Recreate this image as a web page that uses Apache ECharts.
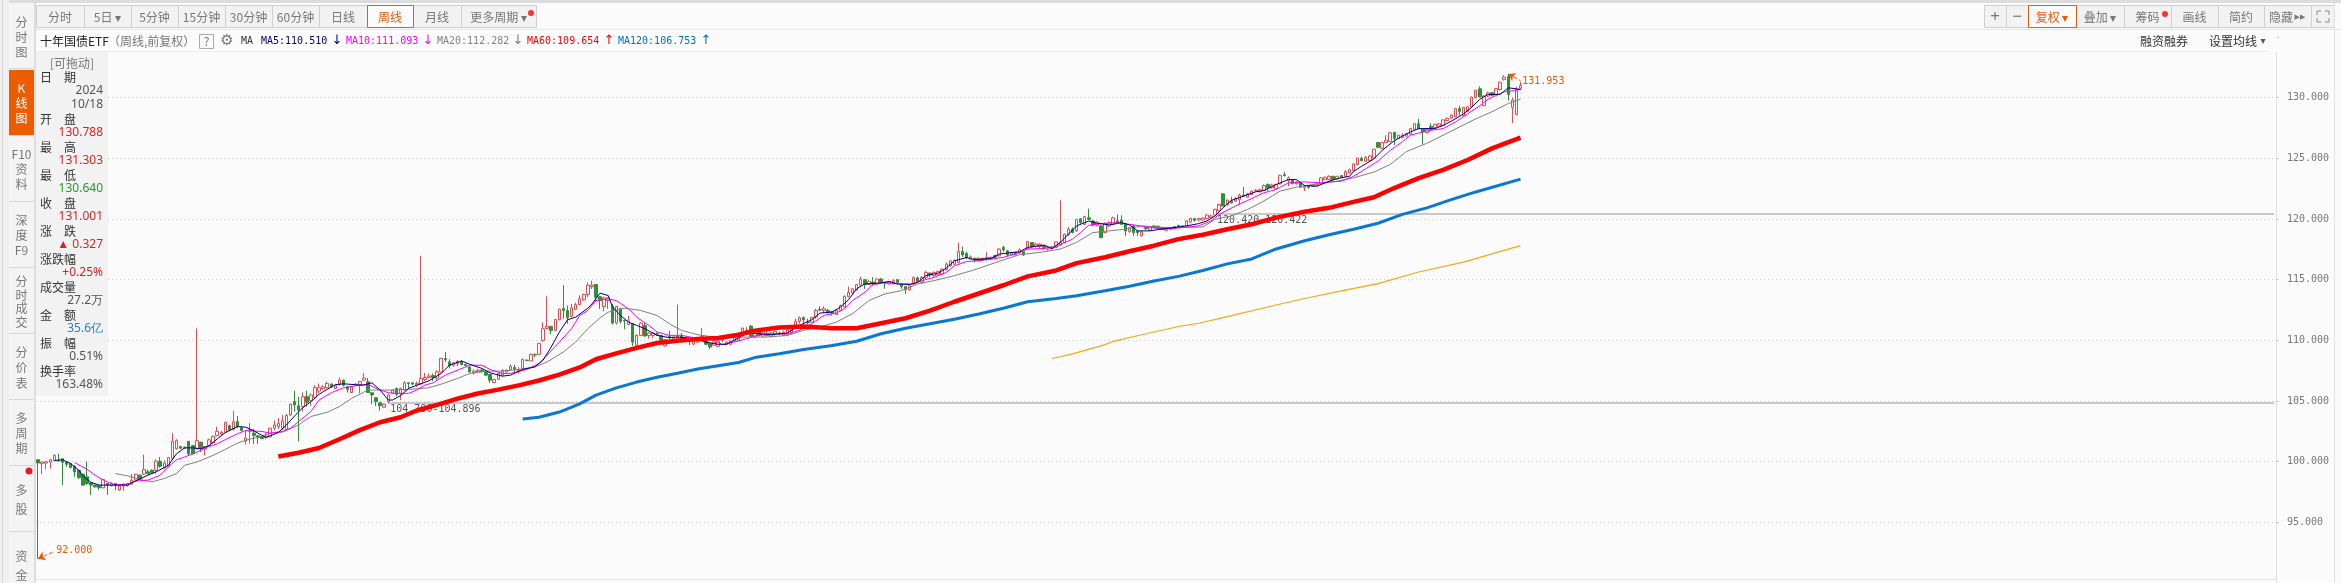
<!DOCTYPE html>
<html>
<head>
<meta charset="utf-8">
<title>十年国债ETF</title>
<script src="https://cdn.jsdelivr.net/npm/echarts@6/dist/echarts.min.js"></script>
<style>
  html, body { margin: 0; padding: 0; background: #fbfbfb; }
  #chart { width: 2341px; height: 583px; }
</style>
</head>
<body>
<div id="chart"></div>
<script>
// weekly candles, [open, close, low, high]
const candles = [
  [100.16,99.89,92,100.2],[99.84,99.97,98.97,100],[99.89,100,99.38,100.02],[99.97,100.16,99.43,100.2],[100.08,100.52,100.03,100.6],
  [100.1,100.06,100,100.65],[100.24,99.95,98.07,100.3],[99.97,99.78,99.57,100],[99.84,99.51,99.45,99.9],[99.62,99.16,98.75,99.7],
  [99.29,98.67,98.6,99.35],[98.97,98.07,98,99],[98.75,98.2,98.1,100],[98.26,98.07,97.26,98.3],[98.07,97.93,97.85,98.1],
  [98.02,97.85,97.66,98.05],[97.85,98.53,97.8,98.6],[98.2,98.07,97.26,98.25],[98.02,98.2,97.95,98.3],[98.2,98.02,97.66,98.25],
  [97.66,98.02,97.6,98.05],[97.99,98.15,97.6,98.2],[98.02,98.2,97.95,98.25],[98.15,98.48,98.1,98.97],[98.48,98.97,98.4,99],
  [98.89,98.6,98.5,98.95],[98.97,99.35,98.9,100.57],[99.16,99.02,98.95,99.35],[99.3,99.08,99,99.35],[99.29,100.05,99,100.2],
  [100.03,99.62,99.5,100.38],[99.51,99.89,99.4,100.1],[99.62,100.33,99.55,100.4],[100.25,101.68,100.2,102.36],[101.06,101.74,101,101.85],
  [101.25,101.11,101.05,101.3],[101.09,101.2,101.05,101.25],[101.68,100.65,100.55,101.7],[101.33,100.65,100.6,101.35],[101.06,101.74,101,110.98],
  [101.6,101.14,100.8,101.65],[101.06,101.25,100.5,101.3],[101.33,101.8,101.25,101.9],[101.55,102.09,101.5,102.15],[102.15,102.5,102.1,102.88],
  [102.28,102.42,102.15,102.55],[102.42,103.23,102.38,103.3],
  [102.95,102.62,102.5,103.05],[102.68,103.3,102.57,104.2],[103.3,102.9,102.76,103.77],[102.8,102.57,102.5,102.9],[101.7,101.95,101.4,102.6],
  [102.5,102.6,101.5,103.17],[102.35,102.15,101.45,102.7],[102.13,102,101.45,102.2],[102.05,101.9,101.85,102.1],[102,102.1,101.85,102.35],
  [102.05,102.76,102,102.8],[102.76,103.03,102.6,103.4],[102.9,103.17,102.68,103.6],[102.76,103.36,102.6,103.85],[102.62,103.8,102.57,103.93],
  [103.85,104.73,103.77,104.8],[104.95,104.67,104.13,105.85],[104.6,104.26,101.67,105.36],[104.53,105.36,104.13,105.7],[105.36,104.9,104.53,105.85],
  [105.03,105.5,104.6,105.63],[105.3,106.1,105.2,106.3],[105.82,106.1,105.63,106.45],[106,106.17,105.9,106.3],[106.1,106.45,106.04,106.58],
  [106.4,106.17,106.1,106.45],[106.04,106.28,106,106.35],[106.37,106.72,106.26,106.94],[106.72,106.3,106.2,106.75],[106.17,105.96,105.7,106.23],
  [105.7,106.17,105.7,106.2],[106.3,106.4,106.25,106.45],[106.3,106.6,105.63,106.64],[106.72,106.9,106.67,107.32],[106.58,105.7,105.7,106.9],
  [105.68,105.5,104.73,105.7],[105.27,104.95,104.6,105.3],[104.86,104.62,104.2,104.9],[104.48,104.75,104.48,104.8],[104.95,105.5,104.8,105.55],
  [105.63,105.9,105.6,105.95],[106.04,105.55,105.4,106.1],[105.63,106.04,105.08,106.1],[105.9,106.5,105.85,106.64],[106.5,106.45,106.05,106.5],
  [106.5,106.4,106.3,106.55],
  [106.33,106.45,106.17,106.6],[106.4,106.86,106.35,116.97],[106.77,106.94,106.64,107.32],[106.94,107.05,106.86,107.27],[107.1,106.94,106.64,107.27],
  [106.9,107.4,106.72,107.54],[107.38,108.52,107.35,108.55],[108.5,108.42,108.22,109.04],[108.22,107.9,107.68,108.44],[107.95,108.14,107.8,108.22],
  [108.08,108.28,107.87,108.36],[108.22,108,107.95,108.36],[108.03,107.93,107.9,108.05],[107.8,107.4,107.35,107.85],[107.32,107.46,107.18,107.6],
  [107.4,107.54,107.3,107.65],[107.55,107.42,107.35,107.6],[107.4,107.13,107.05,107.45],[107.18,106.72,106.5,107.25],[106.53,106.78,106.5,106.8],
  [106.78,107.27,106.75,107.3],[107.13,107.54,107,107.62],[107.4,107.54,107.35,107.6],[107.6,107.87,107.5,108],[107.76,107.62,107.4,108],
  [107.5,107.6,107.27,107.8],[107.68,108.44,107.65,108.47],[108.36,108.33,108.3,108.45],[108.3,108.85,108.28,108.9],[108.85,108.8,108.6,108.9],
  [108.85,109.73,108.8,109.8],[110,110.96,109.86,111.48],[110.98,111.15,110.93,113.63],[111.15,110.82,110.5,111.2],[110.82,111.72,110.8,111.75],
  [111.7,112.57,111.65,112.62],[112.62,112.46,111.78,114.54],[112.46,111.86,111.37,112.87],[111.97,112.68,111.9,113],[112.57,112.95,112.5,113.1],
  [112.95,113.42,112.9,113.7],[113.33,113.77,113.25,113.85],[113.77,114.54,113.55,114.78],[114.43,114.56,114.23,114.92],[114.6,113.55,113.2,114.62],
  [113.6,113.28,112.6,113.65],
  [112.79,113.5,112.4,113.6],[113.28,113.5,112.6,113.55],[112.81,111.42,111.3,113],[111.42,112.8,111.3,112.85],[112.6,111.56,111.4,112.7],
  [111.65,111.6,110.93,111.68],[111.3,111.6,111.25,112],[111.37,109.86,109.54,111.4],[109.6,110.4,109.55,110.5],[110.4,111.42,110.35,111.5],
  [111.23,110.36,110.3,111.5],[110.4,110.6,110.14,110.68],[110.4,110.6,110.2,110.7],[110.55,110.5,110.35,110.65],[110.4,110,109.95,110.45],
  [109.54,110.05,109.5,110.1],[110.33,110.22,110.05,110.77],[110.05,110.27,110,110.3],[110.14,110.33,110.05,112.95],[110.4,110.14,110.1,110.6],
  [110.2,110.25,110.15,110.3],[110.05,109.95,109.6,110.1],[109.68,109.95,109.6,110],[109.86,110.05,109.8,110.1],[110.05,110.33,110,111],
  [109.95,109.68,109.6,110],[109.73,109.45,109.3,109.78],[109.6,109.86,109.55,109.9],[109.5,109.95,109.5,110],[110,110.1,109.86,110.2],
  [109.68,109.86,109.6,109.9],[109.68,109.95,109.6,110],[109.95,110.27,109.9,110.3],[110,110.4,109.95,110.45],[110.36,111,110.3,111.05],
  [110.55,110.82,110.5,111.1],[111.17,110.33,110.3,111.25],[110.27,110.55,110.2,110.6],[110.68,110.4,110.3,110.8],[110.35,110.63,110.3,110.7],
  [110.4,110.55,110.3,110.8],[110.33,110.6,110.25,110.7],[110.55,110.74,110.4,110.8],[110.62,110.55,110.45,110.7],[110.4,110.68,110.35,110.8],
  [110.55,110.87,110.4,110.95],
  [110.61,110.97,110.5,111.05],[111.02,111.57,110.97,111.78],[111.57,111.87,111.38,111.98],[111.87,111.7,111.38,111.98],[111.5,111.45,111.3,111.78],
  [111.5,111.87,111.45,111.95],[111.92,112.47,111.78,112.6],[112.55,112.5,112.4,112.8],[112.47,112.6,112.25,112.8],[112.47,112.3,112.2,112.6],
  [112.35,112.25,112.05,112.4],[112.14,112.47,112.1,112.55],[112.47,112.87,112.4,112.95],[112.74,113.64,112.7,113.7],[113.6,113.96,113.55,114.43],
  [113.9,114.24,113.85,114.3],[114.16,114.6,114.1,114.65],[114.56,115.05,114.5,115.25],[115,114.6,114.24,115.05],[114.6,114.86,114.55,114.95],
  [114.8,114.7,114.5,115.2],[114.65,115.05,114.6,115.1],[115.05,114.78,114.7,115.14],[114.78,114.7,114.24,114.8],[114.65,114.8,114.6,114.85],
  [114.65,114.92,114.6,115.05],[115,114.78,114.7,115.05],[114.6,114.43,114.24,114.65],[114.43,114.16,113.83,114.45],[114.16,114.5,114.1,114.55],
  [114.65,115.19,114.6,115.25],[115.14,114.86,114.8,115.27],[114.78,115.19,114.7,115.3],[115.19,115.6,115.05,115.74],[115.54,115.4,115.2,115.6],
  [115.33,115.6,115.25,115.68],[115.4,115.68,115.35,115.7],[115.46,115.87,115.4,115.9],[115.82,116.28,115.75,116.42],[116.14,116.55,116.1,116.6],
  [116.28,116.6,116.2,116.65],[116.42,117.32,116.33,118.05],[117.32,117.04,116.88,117.72],[117.15,116.83,116.7,117.3],[116.7,116.88,116.65,117],
  [116.77,116.63,116.42,116.8],
  [116.57,116.76,116.5,116.85],[116.75,116.62,116.55,116.8],[116.7,116.84,116.57,117.25],[116.7,116.84,116.6,116.9],[116.98,116.84,116.7,117.05],
  [116.98,117.52,116.9,117.6],[117.66,117.47,117.3,117.8],[117.38,117.03,116.95,117.45],[117.08,117.25,117,117.3],[117.25,117.1,117,117.3],
  [117.2,117.47,117.15,117.58],[117.3,117.03,116.95,117.35],[117.52,118.15,117.5,118.2],[118.07,117.7,117.6,118.1],[117.74,117.93,117.65,118.05],
  [117.74,117.93,117.6,118],[117.8,117.66,117.47,117.85],[117.52,117.66,117.38,117.7],[117.57,117.7,117.47,117.75],[117.66,118.12,117.6,118.15],
  [117.85,118.07,117.8,121.55],[118.07,118.75,118,118.8],[118.7,119.15,118.6,119.35],[119.15,118.88,118.83,119.3],[119.02,119.97,118.95,120],
  [120.02,119.7,119.6,120.05],[119.56,120.2,119.5,120.25],[120.1,119.97,119.9,120.85],[119.84,119.5,119.4,119.9],[119.48,119.75,119.4,119.8],
  [119.43,118.47,118.4,119.5],[118.88,119.65,118.85,119.7],[119.43,119.7,119.35,119.8],[119.56,120.1,119.5,120.2],[119.84,119.7,119.65,120.38],
  [119.9,119.56,119.5,120.3],[119.56,119.02,118.6,119.6],[118.94,119.3,118.9,119.35],[119.43,118.88,118.6,119.5],[119.02,118.88,118.6,119.05],
  [118.6,118.94,118.55,119],[119.3,119.2,119.1,119.35],[119.1,119.35,119.05,119.4],[119.43,119.3,119.25,119.5],[119.4,119.2,119.15,119.45],
  [119.3,119.15,119.1,119.35],
  [119.07,119.29,119,119.35],[119.15,119.29,119.1,119.35],[119.37,119.23,119.2,119.4],[119.48,119.37,119.3,119.5],[119.35,119.43,119.3,119.5],
  [119.43,119.84,119.38,119.9],[119.75,120.05,119.7,120.1],[120.03,119.9,119.78,120.1],[119.92,120.03,119.85,120.1],[119.92,120.08,119.88,120.15],
  [120.03,120.33,120,120.4],[120.11,120.25,120.05,120.35],[120.33,120.8,120.3,120.85],[120.71,121.2,120.65,121.25],[122.08,121.07,121,122.1],
  [121.2,121.56,121.1,121.6],[121.48,121.34,121.28,121.83],[121.48,121.7,121.4,121.8],[121.6,121.97,121.2,122.08],[121.97,121.88,121.8,122.65],
  [121.8,122.08,121.75,122.15],[122.02,122.3,121.97,122.35],[122.3,122.38,122.25,122.45],[122.24,122.4,122.2,122.5],[122.35,122.76,122.3,122.85],
  [122.85,122.57,122.3,122.92],[122.57,122.8,122.5,122.9],[122.5,122.85,122.45,122.9],[122.9,123.6,122.85,123.65],[123.65,123.58,123.5,123.88],
  [123.17,123.39,122.7,123.52],[123.2,122.92,122.85,123.25],[122.9,123.06,122.85,123.15],[122.98,122.62,122.6,123],[122.57,122.7,122.3,122.75],
  [122.75,122.62,122.5,122.78],[122.7,122.8,122.65,122.85],[122.8,122.9,122.75,122.95],[122.92,123.39,122.87,123.45],[123.25,123.44,123.2,123.5],
  [123.25,123.52,123.2,123.6],[123.52,123.25,123.2,123.55],[123.3,123.52,123.25,123.55],[123.58,123.44,123.4,123.6],[123.52,123.93,123.45,124],
  [123.8,124.07,123.75,124.15],[123.99,124.54,123.95,124.6],
  [124.49,125.03,124.45,125.05],[125,124.81,124.75,125.15],[124.76,125.08,124.7,125.2],[124.81,125.2,124.75,125.25],[125.03,125.75,125,125.8],
  [126.3,125.91,125.85,126.35],[125.83,126.3,125.8,126.35],[126.3,126.5,126.25,126.9],[126.37,127.1,126.33,127.15],[127.12,126.64,126.1,127.2],
  [126.64,126.9,126.6,126.95],[126.72,126.9,126.65,127.05],[126.83,127.04,126.8,127.1],[126.99,127.45,126.95,127.5],[127.39,127.85,127.35,127.9],
  [127.85,127.45,127.4,128.25],[127.4,127.18,126.15,127.42],[127.12,127.39,127.05,127.45],[127.63,127.39,127.3,127.9],[127.53,127.8,127.45,127.85],
  [127.66,127.85,127.6,127.9],[127.71,128.17,127.65,128.2],[128.12,128.3,128.05,128.35],[128.3,128.57,128.25,128.6],[128.44,129.1,128.4,129.15],
  [129.1,128.87,128.53,129.33],[128.53,129.2,128.5,129.25],[128.87,129.25,128.8,129.3],[129.25,130.05,129.2,130.1],[130,130.6,129.95,130.65],
  [130.73,130.08,130,130.92],[129.33,130.13,129.3,130.2],[130.13,130.4,130.05,130.5],[130.4,130.2,130.1,130.45],[130.27,130.75,130.2,130.8],
  [130.67,131.28,130.6,131.32],[131.5,131.7,131.4,131.85],[131.75,130.27,129.75,131.953],[129.2,129.8,127.9,130],[128.6,130.67,128.55,130.9],
  [130.788,131.001,130.64,131.303]
];

// moving averages, [week index, value] at the bends
const ma5 = [[4,100.1],[6,100.16],[8,99.84],[10,99.3],[11,98.83],[13,98.29],[15,98.07],[19,98.07],[22,98.07],[24,98.42],[27,98.89],[29,99.16],[32,99.7],[34,100.65],[36,101.14],[38,101.14],[40,101.06],[42,101.33],[44,101.87],[46,102.4],[49,102.9],[51,102.84],[53,102.54],[55,102.16],[56,102],[59,102.4],[61,103.03],[63,103.77],[65,104.45],[67,104.95],[69,105.55],[71,105.96],[73,106.34],[75,106.42],[78,106.34],[80,106.31],[82,106.5],[84,105.9],[86,105.08],[87,105.08],[89,105.44],[91,106.04],[93,106.3],[96,106.67],[99,107.27],[101,107.95],[104,108.3],[106,108.03],[109,107.68],[111,107.32],[114,107.05],[116,107.13],[119,107.6],[122,107.81],[124,108.36],[126,109.45],[128,110.68],[130,111.69],[132,111.91],[135,112.65],[136,113],[138,113.89],[140,113.69],[141,112.79],[143,112.05],[145,111.5],[147,111.23],[149,110.96],[152,110.41],[155,110.22],[157,110.27],[161,110.14],[164,109.86],[167,109.67],[169,109.67],[172,110.19],[174,110.68],[177,110.55],[180,110.46],[184,110.6],[187,111.24],[190,111.7],[192,112.25],[195,112.33],[197,112.74],[199,113.34],[201,114.24],[203,114.65],[207,114.73],[209,114.86],[211,114.65],[214,114.6],[216,114.78],[218,115.33],[221,115.54],[223,115.95],[225,116.55],[228,116.83],[230,116.63],[234,116.76],[236,117.11],[238,117.19],[241,117.3],[243,117.66],[247,117.85],[249,117.57],[251,118.07],[253,118.75],[255,119.43],[258,119.84],[260,119.65],[263,119.51],[266,119.7],[268,119.51],[270,119.02],[273,119.02],[276,119.18],[280,119.34],[282,119.43],[285,119.62],[287,119.84],[289,120.25],[291,120.93],[293,121.53],[296,121.89],[299,122.24],[301,122.35],[304,122.84],[307,123.25],[309,123.25],[311,122.76],[314,122.7],[317,123.11],[319,123.33],[322,123.52],[323,123.9],[325,124.35],[328,124.95],[330,125.65],[333,126.45],[335,126.83],[337,127.18],[339,127.45],[343,127.45],[345,127.72],[347,128.06],[350,128.66],[352,129.2],[354,129.87],[356,130.27],[359,130.27],[361,130.81],[363,130.73],[364,130.67]];
const ma10 = [[9,99.92],[12,99.38],[14,98.89],[16,98.48],[19,98.07],[22,98.15],[24,98.4],[27,98.48],[30,98.89],[32,99.57],[34,100.16],[36,100.38],[39,100.79],[42,101.25],[44,101.47],[46,101.82],[49,102.3],[51,102.57],[55,102.49],[57,102.35],[60,102.49],[62,102.76],[64,103.31],[67,104.13],[69,105.08],[72,105.68],[75,106.09],[78,106.26],[81,106.37],[83,106.04],[86,105.68],[88,105.63],[91,105.63],[93,105.9],[95,106.31],[97,106.5],[100,107.13],[103,107.54],[106,107.95],[109,107.95],[111,107.6],[114,107.27],[116,107.27],[120,107.6],[123,108.09],[125,108.77],[128,109.86],[131,110.96],[133,112.05],[135,112.46],[137,113.28],[140,113.42],[142,113.28],[145,112.6],[147,111.91],[150,111.23],[152,110.68],[155,110.41],[158,110.41],[161,110.22],[165,110.14],[168,109.67],[171,109.86],[174,110.14],[177,110.46],[181,110.55],[184,110.52],[187,110.83],[190,111.38],[193,112.06],[196,112.25],[198,112.6],[200,113.28],[203,113.96],[205,114.6],[208,114.78],[211,114.65],[215,114.65],[217,114.92],[220,115.19],[223,115.6],[225,116.14],[228,116.5],[230,116.53],[234,116.7],[237,116.84],[240,117.11],[243,117.52],[247,117.57],[250,117.74],[254,118.34],[256,118.88],[258,119.48],[261,119.62],[265,119.7],[268,119.56],[272,119.37],[276,119.15],[281,119.29],[285,119.43],[288,119.84],[290,120.38],[294,121.07],[297,121.53],[301,122.16],[304,122.43],[307,122.98],[311,123.06],[315,122.98],[317,123.06],[320,123.11],[323,123.52],[326,124.14],[329,124.76],[332,125.65],[335,126.37],[337,126.91],[341,127.26],[345,127.45],[348,127.98],[351,128.66],[354,129.33],[356,129.87],[360,130.48],[363,130.59],[364,130.73]];
const ma20 = [[19,99.02],[22,98.83],[25,98.53],[28,98.34],[31,98.61],[34,99.02],[36,99.7],[39,99.97],[43,100.52],[46,101.02],[49,101.53],[52,101.86],[55,102.1],[57,102.35],[60,102.43],[64,103.03],[67,103.72],[71,104.07],[74,104.54],[77,105.22],[81,105.9],[84,105.9],[87,105.9],[93,106],[96,106.09],[99,106.39],[103,106.86],[106,107.27],[110,107.46],[114,107.46],[118,107.6],[122,107.81],[125,108.22],[129,109.04],[132,109.86],[135,110.96],[138,111.85],[140,112.32],[144,112.65],[148,112.46],[152,112.05],[155,111.37],[158,110.82],[162,110.46],[166,110.27],[170,110.22],[174,110.27],[179,110.27],[184,110.4],[188,110.83],[192,111.1],[196,111.5],[200,112.2],[204,113.28],[208,113.83],[212,114.1],[216,114.65],[220,114.92],[225,115.33],[230,115.82],[236,116.51],[241,117.06],[246,117.25],[251,117.52],[255,118.07],[259,118.88],[263,119.02],[267,119.16],[271,119.43],[277,119.29],[286,119.34],[289,119.97],[293,120.25],[297,120.79],[301,121.48],[305,122.3],[309,122.62],[313,122.84],[318,123.06],[323,123.39],[328,123.87],[332,124.49],[336,125.56],[341,126.24],[345,126.91],[349,127.58],[353,128.25],[357,128.84],[361,129.52],[364,129.87]];
const ma60 = [[59,100.43],[64,100.73],[69,101.13],[74,101.85],[79,102.6],[84,103.25],[89,103.66],[93,104.22],[98,104.68],[103,105.2],[108,105.62],[113,105.94],[118,106.29],[123,106.69],[128,107.18],[133,107.77],[137,108.44],[142,108.92],[147,109.38],[152,109.78],[157,109.97],[162,110.11],[167,110.19],[172,110.46],[176,110.8],[182,111.05],[188,111.14],[195,111],[201,111],[207,111.41],[213,111.82],[219,112.45],[225,113.18],[231,113.86],[237,114.54],[243,115.27],[250,115.76],[255,116.36],[262,116.85],[268,117.34],[274,117.8],[280,118.34],[286,118.7],[292,119.16],[298,119.57],[304,120.11],[311,120.6],[317,120.92],[323,121.41],[328,121.79],[333,122.55],[339,123.37],[345,124.05],[351,124.86],[357,125.82],[364,126.71]];
const ma120 = [[119,103.52],[123,103.66],[128,104.09],[133,104.76],[137,105.48],[142,106.08],[147,106.56],[152,106.96],[157,107.28],[162,107.63],[167,107.9],[172,108.17],[176,108.58],[182,108.9],[188,109.24],[195,109.57],[201,109.92],[207,110.54],[213,111],[219,111.36],[225,111.74],[231,112.17],[237,112.64],[243,113.18],[250,113.45],[255,113.67],[262,114.08],[268,114.46],[274,114.89],[280,115.27],[286,115.76],[292,116.3],[298,116.71],[304,117.53],[311,118.21],[317,118.7],[323,119.16],[329,119.65],[335,120.38],[341,120.92],[347,121.6],[353,122.23],[364,123.29]];
const ma250 = [[249,108.5],[254,108.89],[262,109.65],[264,109.92],[271,110.46],[280,111.14],[285,111.41],[292,111.96],[304,112.91],[311,113.45],[320,114.08],[329,114.67],[339,115.63],[350,116.44],[364,117.8]];

// hidden x axis: one slot a week, the empty ones keep the chart's free space on the right
const weekSlots = Array.from({ length: 550 }, (_, i) => String(i));

const lowPoint = [0, 92];
const highPoint = [361, 131.953];
const recentBand = ["120.420-120.422", 120.42, 289];
const earlierBand = ["104.790-104.896", 104.85, 86];

const periodTabs = [["分时",36,84],["5日 ▾",84,131],["5分钟",131,178],["15分钟",178,225],["30分钟",225,272],["60分钟",272,319],["日线",319,367],["周线",367,413],["月线",413,461],["更多周期 ▾",461,536]];
const toolTabs = [["+",1984,2006],["−",2006,2028],["复权 ▾",2028,2076],["叠加 ▾",2076,2124],["筹码",2124,2171],["画线",2171,2218],["简约",2218,2264],["隐藏",2264,2311],["",2311,2334]];
const sideTabs = [[["分","时","图"],4,68,[22,37,52]],[["K","线","图"],70,135,[88,103,118]],[["F10","资","料"],136,201,[154,169,184]],[["深","度","F9"],202,267,[220,235,250]],[["分","时","成","交"],268,333,[281,295,308,322]],[["分","价","表"],334,399,[352,367,383]],[["多","周","期"],400,465,[418,433,448]],[["多","股"],466,531,[490,509]],[["资","金"],532,590,[556,575]]];
const maLegend = [["MA5:110.510","#000080",261,"↓",337],["MA10:111.093","#ff00ff",346,"↓",428],["MA20:112.282","#808080",437,"↓",518],["MA60:109.654","#ff0000",527,"↑",609],["MA120:106.753","#0070c8",618,"↑",706]];
const infoRows = [["日　期","#333","l"],["2024","#555","r"],["10/18","#555","r"],["开　盘","#333","l"],["130.788","#e02020","r"],["最　高","#333","l"],["131.303","#e02020","r"],["最　低","#333","l"],["130.640","#20a020","r"],["收　盘","#333","l"],["131.001","#e02020","r"],["涨　跌","#333","l"],["▲ 0.327","#e02020","r"],["涨跌幅","#333","l"],["+0.25%","#e02020","r"],["成交量","#333","l"],["27.2万","#555","r"],["金　额","#333","l"],["35.6亿","#2080e0","r"],["振　幅","#333","l"],["0.51%","#555","r"],["换手率","#333","l"],["163.48%","#555","r"]];

const cjk = '12px "Noto Sans CJK SC", sans-serif';
const mono = '10px "DejaVu Sans Mono", monospace';
const orange = "#e8590c";
const g = [];

function text(str, x, y, fill, font, align) {
  g.push({ type: "text", z: 102, silent: true, style: { text: str, x, y, fill: fill || "#777", font: font || cjk, align: align || "left", verticalAlign: "middle" } });
}
function rect(x, y, w, h, fill, stroke) {
  g.push({ type: "rect", z: 101, silent: true, shape: { x, y, width: w, height: h }, style: { fill: fill || "transparent", stroke: stroke || null, lineWidth: 1 } });
}
function hline(x1, x2, y, color) { rect(x1, y, x2 - x1, 1, color); }
function dot(x, y, r, fill) {
  g.push({ type: "circle", z: 103, silent: true, shape: { cx: x, cy: y, r }, style: { fill } });
}
function corner(points) {
  g.push({ type: "polyline", z: 103, silent: true, shape: { points }, style: { fill: "none", stroke: "#888", lineWidth: 1 } });
}

// header bands cover the top of the grid
rect(0, 0, 2341, 30, "#fbfbfb");
rect(36, 30, 2241, 22, "#fbfbfb");
rect(0, 0, 2341, 3, "#dcdcdc");
hline(36, 2341, 29, "#e6e6e6");
hline(36, 2267, 51, "#eeeeee");

periodTabs.concat(toolTabs).forEach(([label, x1, x2]) => {
  const active = label === "周线" || label.startsWith("复权");
  rect(x1 + 0.5, 5.5, x2 - x1, 22, active ? "#fbfbfb" : "#f2f2f2", "#cfcfcf");
});
periodTabs.concat(toolTabs).forEach(([label, x1, x2]) => {
  const active = label === "周线" || label.startsWith("复权");
  if (active) {
    g.push({ type: "rect", z: 102, silent: true, shape: { x: x1 + 0.5, y: 5.5, width: x2 - x1, height: 22 }, style: { fill: "transparent", stroke: orange, lineWidth: 1 } });
  }
  const big = label === "+" || label === "−";
  const cx = label === "隐藏" ? x1 + 17 : (x1 + x2) / 2;
  text(label, cx, 17, active ? orange : "#777", big ? '17px "Noto Sans", sans-serif' : cjk, "center");
});
dot(531, 13, 3, "#ff3030");
dot(2165, 14, 3, "#ff3030");
text("▶▶", 2300, 17, "#777", '7px "DejaVu Sans"', "center");
corner([[2317, 15], [2317, 11], [2321, 11]]);
corner([[2325, 11], [2329, 11], [2329, 15]]);
corner([[2317, 18], [2317, 22], [2321, 22]]);
corner([[2325, 22], [2329, 22], [2329, 18]]);

// second row
text("十年国债ETF", 40, 41, "#222");
text("（周线,前复权）", 108, 41, "#777");
rect(199.5, 34.5, 14, 14, "#fbfbfb", "#aaaaaa");
text("?", 206.5, 41, "#777", cjk, "center");
text("⚙", 227, 41, "#777", '15px "DejaVu Sans"', "center");
text("MA", 241, 41, "#333", mono);
maLegend.forEach(([label, color, x, arrow, ax]) => {
  text(label, x, 41, color, mono);
  text(arrow, ax, 41, color, '13px "DejaVu Sans"', "center");
});
text("融资融券", 2140, 41, "#333");
text("设置均线", 2209, 41, "#333");
text("▾", 2263, 41, "#555", '10px "DejaVu Sans"', "center");

// left side tabs
rect(0, 0, 9, 583, "#f0f0f0");
rect(2, 0, 1, 583, "#d8d8d8");
rect(9, 3, 26, 580, "#f4f4f4");
rect(34, 3, 2, 580, "#dddddd");
sideTabs.forEach(([chars, top, bottom, ys]) => {
  const active = chars[0] === "K";
  rect(9, top, 25, bottom - top, active ? "#ee5c00" : "#f4f4f4");
  hline(9, 34, bottom, "#d8d8d8");
  chars.forEach((c, i) => text(c, 21.5, ys[i], active ? "#fff" : "#777", cjk, "center"));
});
dot(29, 471, 3.5, "#e02020");

// info panel
rect(36, 52, 72, 344, "#f2f2f2");
text("[可拖动]", 72, 63, "#777", cjk, "center");
infoRows.forEach(([label, color, side], i) => {
  const y = 77 + i * 14;
  if (side === "l") text(label, 40, y, color);
  else text(label, 103, y, color, '12px "Noto Sans", sans-serif', "right");
});

// outer frame lines
rect(2334, 3, 1, 580, "#e0e0e0");
hline(36, 2277, 579, "#e6e6e6");

function maLine(name, data, color, width, z) {
  return { name, type: "line", data, showSymbol: false, silent: true, z,
    lineStyle: { color, width }, itemStyle: { color } };
}

const bandLabel = { color: "#555", fontFamily: "DejaVu Sans Mono", fontSize: 10, position: "insideStartBottom", distance: 2 };
function bandLine([label, value, from]) {
  return [
    { coord: [from, value], symbol: "none", lineStyle: { color: "#b8b8b8", width: 1.5, type: "solid" },
      label: { ...bandLabel, show: true, formatter: label } },
    { coord: [549, value], symbol: "none" }
  ];
}
function peakLine(point, end, label) {
  return [
    { coord: point, symbol: "arrow", symbolSize: 7, lineStyle: { color: orange, width: 1, type: "dashed" },
      label: { show: true, position: "end", formatter: label, color: orange, fontFamily: "DejaVu Sans Mono", fontSize: 10, distance: 2 } },
    { coord: end, symbol: "none" }
  ];
}

const chart = echarts.init(document.getElementById("chart"));
chart.setOption({
  animation: false,
  backgroundColor: "#fbfbfb",
  grid: { left: 36, right: 65, top: 37, bottom: -6 },
  xAxis: { type: "category", data: weekSlots, show: false, boundaryGap: true },
  yAxis: {
    type: "value", position: "right", min: 90, max: 135, interval: 5, scale: true,
    axisLine: { show: true, lineStyle: { color: "#e0e0e0" } },
    axisTick: { show: true, length: 3, lineStyle: { color: "#cccccc" } },
    axisLabel: { color: "#777", fontFamily: "DejaVu Sans Mono", fontSize: 10, margin: 11,
      formatter: (v) => (v === 135 || v === 90 ? "" : v.toFixed(3)) },
    splitLine: { show: true, lineStyle: { color: "#cfcfcf", type: [1, 3], width: 1 } }
  },
  series: [
    {
      name: "周K", type: "candlestick", data: candles, barWidth: 3, silent: true, z: 2,
      itemStyle: { color: "#fbfbfb", color0: "#2f8f3a", borderColor: "#e84a4f", borderColor0: "#2f8f3a", borderWidth: 1 },
      markLine: {
        silent: true, animation: false, z: 1,
        data: [
          bandLine(recentBand),
          bandLine(earlierBand),
          peakLine(lowPoint, [4, 92.6], "92.000"),
          peakLine(highPoint, [363.8, 131.4], "131.953")
        ]
      }
    },
    maLine("MA20", ma20, "#808080", 1, 3),
    maLine("MA10", ma10, "#ff00ff", 1, 4),
    maLine("MA5", ma5, "#000080", 1, 5),
    maLine("MA60", ma60, "#ff0000", 4.5, 6),
    maLine("MA120", ma120, "#0a78d2", 3, 6),
    maLine("MA250", ma250, "#f5a814", 1.2, 6)
  ],
  graphic: g
});
window.addEventListener("resize", () => chart.resize());
</script>
</body>
</html>
